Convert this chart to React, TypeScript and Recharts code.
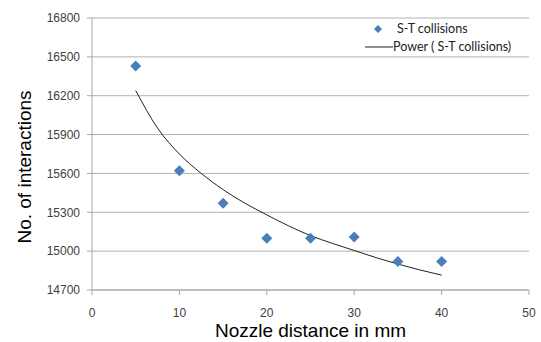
import React from "react";
import {
  ComposedChart,
  CartesianGrid,
  Line,
  Scatter,
  XAxis,
  YAxis,
} from "recharts";

// measured values
const DISTANCES = [5, 10, 15, 20, 25, 30, 35, 40];
const COLLISIONS = [16430, 15620, 15370, 15100, 15100, 15110, 14920, 14920];

// power trendline
const TREND_X = [5, 7.5, 10, 12.5, 15, 17.5, 20, 22.5, 25, 27.5, 30, 32.5, 35, 37.5, 40];
const TREND_Y = [16240, 15950, 15750, 15600, 15475, 15370, 15280, 15195, 15120, 15060, 15005, 14950, 14900, 14855, 14815];

const X_TICKS = [0, 10, 20, 30, 40, 50];
const Y_TICKS = [14700, 15000, 15300, 15600, 15900, 16200, 16500, 16800];

const points = DISTANCES.map((x, i) => ({ x, y: COLLISIONS[i] }));
const trend = TREND_X.map((x, i) => ({ x, y: TREND_Y[i] }));

const BLUE = "#4a7ebb";
const AXIS = "#a6a6a6";
const FONT = "'Liberation Sans', Arial, sans-serif";

const Diamond = (props: any) => {
  const { cx, cy } = props;
  const r = 5.5;
  return (
    <path
      d={`M${cx},${cy - r}L${cx + r},${cy}L${cx},${cy + r}L${cx - r},${cy}Z`}
      fill={BLUE}
    />
  );
};

// legend drawn as an overlay so it takes no room from the plot
const LegendBox = () => (
  <div
    style={{
      position: "absolute",
      left: 363,
      top: 20,
      fontFamily: "Lato, 'Open Sans', sans-serif",
      fontSize: 12.5,
      color: "#222",
      lineHeight: "18px",
    }}
  >
    <div style={{ display: "flex", alignItems: "center" }}>
      <svg width={30} height={18}>
        <path d="M15,5L19,9L15,13L11,9Z" fill={BLUE} />
      </svg>
      <span style={{ marginLeft: 4 }}>S-T collisions</span>
    </div>
    <div style={{ display: "flex", alignItems: "center" }}>
      <svg width={30} height={18}>
        <line x1={2} y1={9} x2={30} y2={9} stroke="#222" strokeWidth={1} />
      </svg>
      <span>Power ( S-T collisions)</span>
    </div>
  </div>
);

export default function App() {
  return (
    <div style={{ position: "absolute", left: 0, top: 0, width: 541, height: 342, background: "#fff" }}>
      <ComposedChart
        width={541}
        height={342}
        margin={{ top: 18, right: 12, left: 0, bottom: 0 }}
      >
        <CartesianGrid vertical={false} stroke="#b3b3b3" />
        <XAxis
          type="number"
          dataKey="x"
          domain={[0, 50]}
          ticks={X_TICKS}
          height={52}
          stroke={AXIS}
          tickSize={5}
          tickMargin={13}
          tick={{ fill: "#404040", fontSize: 12, fontFamily: FONT }}
          label={{
            value: "Nozzle distance in mm",
            position: "insideBottom",
            offset: 5,
            fill: "#000",
            fontSize: 19,
            fontFamily: FONT,
          }}
        />
        <YAxis
          type="number"
          dataKey="y"
          domain={[14700, 16800]}
          ticks={Y_TICKS}
          width={92}
          stroke={AXIS}
          tickSize={5}
          tickMargin={7}
          tick={{ fill: "#404040", fontSize: 12, fontFamily: FONT }}
          label={{
            content: () => (
              <text
                x={24}
                y={167}
                transform="rotate(-90, 24, 167)"
                textAnchor="middle"
                dominantBaseline="central"
                fill="#000"
                fontSize={19}
                fontFamily={FONT}
              >
                No. of interactions
              </text>
            ),
          }}
        />
        <Scatter
          data={points}
          dataKey="y"
          fill={BLUE}
          shape={<Diamond />}
          isAnimationActive={false}
        />
        <Line
          data={trend}
          dataKey="y"
          type="monotone"
          stroke="#222"
          strokeWidth={1}
          dot={false}
          activeDot={false}
          isAnimationActive={false}
        />
      </ComposedChart>
      <LegendBox />
    </div>
  );
}
